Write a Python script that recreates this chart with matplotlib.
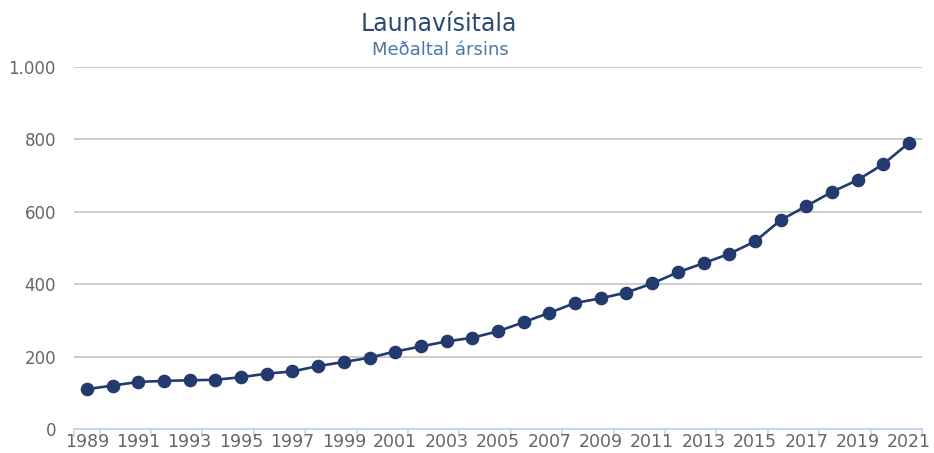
import matplotlib
matplotlib.use("Agg")
import matplotlib.pyplot as plt
import numpy as np
from matplotlib.ticker import FuncFormatter

# Launavísitala, meðaltal ársins (lesið af myndinni)
years = list(range(1989, 2022))
index_values = [110, 120, 130, 133, 134.5, 136, 143, 153, 159, 174, 185,
                197, 214, 228, 242, 252, 270, 295, 321, 348, 361,
                377, 402, 433, 458, 484, 518, 577, 616, 655, 688, 732, 791]
y_ticks = [0, 200, 400, 600, 800, 1000]

title = "Launavísitala"
subtitle = "Meðaltal ársins"

line_color = "#233a6e"
grid_color = "#cccccc"
axis_color = "#c5d6ec"
label_color = "#666666"

W, H = 934, 453
fig = plt.figure(figsize=(W / 100, H / 100), dpi=100)
ax = fig.add_axes([74 / W, 1 - 429 / H, (922 - 74) / W, (429 - 67) / H])

x = np.arange(len(years))
ax.plot(x, index_values, color=line_color, linewidth=1.9, marker="o",
        markersize=8.8, markerfacecolor=line_color, markeredgecolor=line_color,
        clip_on=False, zorder=3)

ax.set_xlim(-0.5, len(years) - 0.5)
ax.set_ylim(0, 1000)

# y-ás
ax.set_yticks(y_ticks)
ax.yaxis.set_major_formatter(FuncFormatter(lambda v, p: f"{int(v):,}".replace(",", ".")))
ax.tick_params(axis="y", length=0, pad=13, labelsize=12, labelcolor=label_color)
ax.grid(axis="y", color=grid_color, linewidth=1.4)
ax.set_axisbelow(True)

# x-ás: strik á flokkamörkum, merki á öðru hverju ári
major = [-0.5] + [k - 0.5 for k in range(1, len(years) + 1, 2)]
ax.set_xticks(major)
ax.set_xticklabels([])
ax.set_xticks(x[::2], minor=True)
ax.set_xticklabels([str(y) for y in years[::2]], minor=True)
ax.tick_params(axis="x", which="major", length=6, width=1.2, color=axis_color)
ax.tick_params(axis="x", which="minor", length=0, pad=3, labelsize=12.5,
               labelcolor=label_color)

for side in ["top", "right", "left"]:
    ax.spines[side].set_visible(False)
ax.spines["bottom"].set_color(axis_color)
ax.spines["bottom"].set_linewidth(1.4)

fig.text(439 / W, 1 - 24 / H, title, ha="center", va="center", fontsize=17,
         color="#2b4a6f")
fig.text(440 / W, 1 - 50 / H, subtitle, ha="center", va="center", fontsize=13,
         color="#4b78a8")

fig.savefig("out.png", dpi=100)
